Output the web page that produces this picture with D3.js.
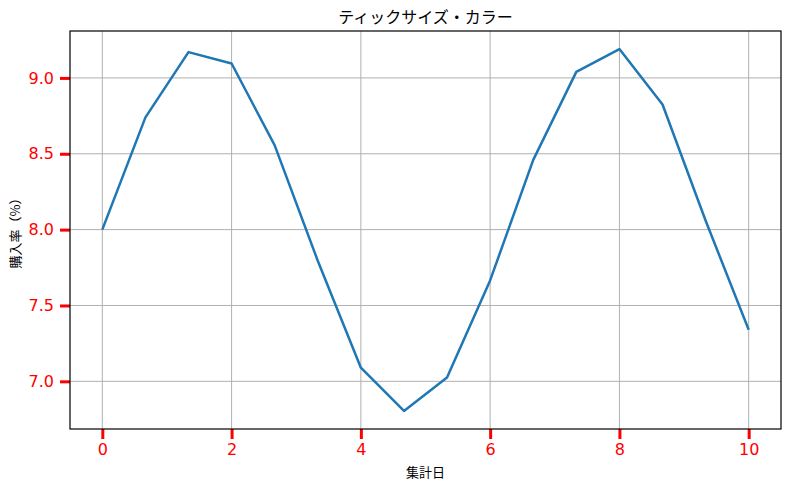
<!DOCTYPE html>
<html lang="ja">
<head>
<meta charset="utf-8">
<script src="https://cdn.jsdelivr.net/npm/d3@7"></script>
<style>
  body { margin: 0; background: #fff; }
  svg text { font-family: "Noto Sans CJK JP", "DejaVu Sans", sans-serif; text-spacing-trim: space-all; }
  .tick text { font-family: "DejaVu Sans", sans-serif; }
</style>
</head>
<body>
<div id="chart"></div>
<script>
// data
const days = [0, 0.667, 1.333, 2, 2.667, 3.333, 4, 4.667, 5.333, 6, 6.667, 7.333, 8, 8.667, 9.333, 10];
const rates = [8.00, 8.74, 9.17, 9.095, 8.555, 7.795, 7.09, 6.805, 7.025, 7.665, 8.46, 9.04, 9.19, 8.825, 8.06, 7.34];
const xTicks = [0, 2, 4, 6, 8, 10];
const yTicks = [7.0, 7.5, 8.0, 8.5, 9.0];

const width = 790;
const height = 490;
const margin = {left: 70, right: 9, top: 31, bottom: 61};

const svg = d3.select("#chart")
  .append("svg")
  .attr("width", width)
  .attr("height", height);

// matplotlib-style 5% padding
const xScale = d3.scaleLinear()
  .domain([-0.5, 10.5])
  .range([margin.left, width - margin.right]);

const yMin = d3.min(rates), yMax = d3.max(rates);
const yPad = (yMax - yMin) * 0.05;
const yScale = d3.scaleLinear()
  .domain([yMin - yPad, yMax + yPad])
  .range([height - margin.bottom, margin.top]);

// grid
svg.append("g")
  .selectAll("line")
  .data(xTicks)
  .enter()
  .append("line")
    .attr("x1", d => xScale(d)).attr("x2", d => xScale(d))
    .attr("y1", margin.top).attr("y2", height - margin.bottom)
    .attr("stroke", "#b0b0b0").attr("stroke-width", 1);

svg.append("g")
  .selectAll("line")
  .data(yTicks)
  .enter()
  .append("line")
    .attr("x1", margin.left).attr("x2", width - margin.right)
    .attr("y1", d => yScale(d)).attr("y2", d => yScale(d))
    .attr("stroke", "#b0b0b0").attr("stroke-width", 1);

// the line
const line = d3.line()
  .x((d, i) => xScale(days[i]))
  .y(d => yScale(d));

svg.append("path")
  .datum(rates)
  .attr("fill", "none")
  .attr("stroke", "#1f77b4")
  .attr("stroke-width", 2.5)
  .attr("stroke-linejoin", "round")
  .attr("d", line);

// axes
const xAxis = svg.append("g")
  .attr("transform", `translate(0,${height - margin.bottom})`)
  .call(d3.axisBottom(xScale).tickValues(xTicks).tickFormat(d3.format("d")).tickSize(10).tickPadding(5));

const yAxis = svg.append("g")
  .attr("transform", `translate(${margin.left},0)`)
  .call(d3.axisLeft(yScale).tickValues(yTicks).tickFormat(d3.format(".1f")).tickSize(10).tickPadding(6));

[xAxis, yAxis].forEach(ax => {
  ax.attr("font-family", null);
  ax.select(".domain").remove();
  ax.selectAll(".tick line").attr("stroke", "red").attr("stroke-width", 3);
  ax.selectAll(".tick text")
    .attr("fill", "red")
    .attr("font-size", "16px");
});

// frame
svg.append("rect")
  .attr("x", margin.left)
  .attr("y", margin.top)
  .attr("width", width - margin.left - margin.right)
  .attr("height", height - margin.top - margin.bottom)
  .attr("fill", "none")
  .attr("stroke", "black")
  .attr("stroke-width", 1.2);

// title and labels
svg.append("text")
  .attr("x", (margin.left + width - margin.right) / 2)
  .attr("y", 23)
  .attr("text-anchor", "middle")
  .attr("font-size", "16px")
  .attr("fill", "black")
  .text("ティックサイズ・カラー");

svg.append("text")
  .attr("x", (margin.left + width - margin.right) / 2)
  .attr("y", 477)
  .attr("text-anchor", "middle")
  .attr("font-size", "13px")
  .attr("fill", "black")
  .text("集計日");

svg.append("text")
  .attr("transform", `translate(20,${(margin.top + height - margin.bottom) / 2}) rotate(-90)`)
  .attr("text-anchor", "middle")
  .attr("font-size", "13px")
  .attr("fill", "black")
  .text("購入率（%）");
</script>
</body>
</html>
